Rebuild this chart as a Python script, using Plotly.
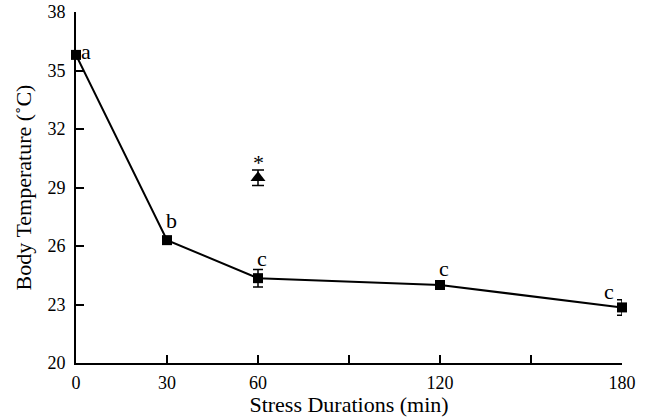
import plotly.graph_objects as go

# Data
durations = [0, 30, 60, 120, 180]
temps = [35.8, 26.3, 24.35, 24.0, 22.85]
temp_err = [0.15, 0.15, 0.45, 0.2, 0.4]
letters = ["a", "b", "c", "c", "c"]

star_x = [60]
star_y = [29.5]
star_err = [0.4]

x_tickvals = [0, 30, 60, 90, 120, 150, 180]
x_ticktext = ["0", "30", "60", "", "120", "", "180"]
y_tickvals = [20, 23, 26, 29, 32, 35, 38]

FONT = "Liberation Serif, Times New Roman, serif"

fig = go.Figure()
fig.add_trace(go.Scatter(
    x=durations, y=temps, mode="lines+markers",
    line=dict(color="black", width=2),
    marker=dict(symbol="square", size=10, color="black"),
    error_y=dict(type="data", array=temp_err, color="black", thickness=1.5, width=5),
    cliponaxis=False, showlegend=False,
))
fig.add_trace(go.Scatter(
    x=star_x, y=star_y, mode="markers",
    marker=dict(symbol="triangle-up", size=13, color="black"),
    error_y=dict(type="data", array=star_err, color="black", thickness=1.5, width=6),
    cliponaxis=False, showlegend=False,
))

shifts = [(10, 3), (4, 20), (4, 20), (4, 17), (-13, 16)]
for xv, yv, lab, (dx, dy) in zip(durations, temps, letters, shifts):
    fig.add_annotation(x=xv, y=yv, text=lab, showarrow=False, xshift=dx, yshift=dy,
                       font=dict(family=FONT, size=22, color="black"))
fig.add_annotation(x=star_x[0], y=star_y[0], text="*", showarrow=False, xshift=0, yshift=15,
                   font=dict(family=FONT, size=22, color="black"))

fig.update_layout(
    width=648, height=417,
    margin=dict(l=76, r=26, t=12, b=54),
    paper_bgcolor="white", plot_bgcolor="white",
    font=dict(family=FONT, size=18, color="black"),
    xaxis=dict(
        range=[0, 180], tickvals=x_tickvals, ticktext=x_ticktext,
        ticks="inside", ticklen=8, tickwidth=1.5, tickcolor="black",
        showline=True, linecolor="black", linewidth=2, showgrid=False, zeroline=False,
        title=dict(text="Stress Durations (min)", standoff=0, font=dict(size=22)),
        tickfont=dict(size=18), automargin=False, ticklabelstandoff=2,
    ),
    yaxis=dict(
        range=[20, 38], tickvals=y_tickvals,
        ticks="inside", ticklen=8, tickwidth=1.5, tickcolor="black",
        showline=True, linecolor="black", linewidth=2, showgrid=False, zeroline=False,
        title=dict(text="Body Temperature (˚C)", standoff=10, font=dict(size=22)),
        tickfont=dict(size=18), ticklabelstandoff=5, automargin=False,
    ),
)

fig.write_html("out.html", config={"displayModeBar": False},
               post_script="document.body.style.margin='0';")
